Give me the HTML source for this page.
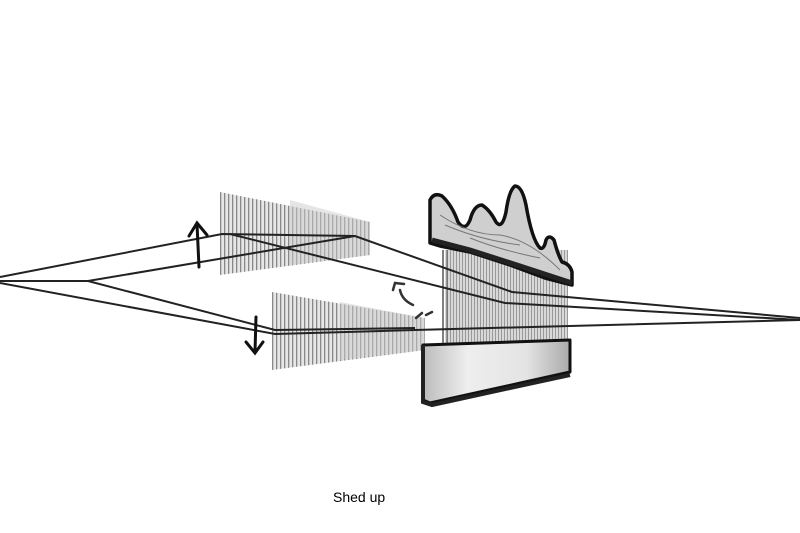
<!DOCTYPE html>
<html><head><style>html,body{margin:0;padding:0;background:#fff;}svg{display:block}</style></head>
<body>
<svg width="800" height="533" viewBox="0 0 800 533" xmlns="http://www.w3.org/2000/svg">
<defs>
<pattern id="vl" width="4" height="10" patternUnits="userSpaceOnUse"><rect width="4" height="10" fill="#e6e6e6"/><rect x="0" width="1.3" height="10" fill="#888"/></pattern>
<pattern id="reed" width="3" height="10" patternUnits="userSpaceOnUse"><rect width="3" height="10" fill="#d8d8d8"/><rect x="0" width="1" height="10" fill="#999"/></pattern>
<linearGradient id="bg" x1="0" x2="1" y1="0" y2="0"><stop offset="0" stop-color="#bbb"/><stop offset="0.3" stop-color="#eee"/><stop offset="0.7" stop-color="#e4e4e4"/><stop offset="1" stop-color="#aaa"/></linearGradient>
</defs>
<polygon points="220,192 370,222 370,255 220,275" fill="url(#vl)"/>
<polygon points="290,200 370,222 370,255 290,265" fill="#ccc" opacity="0.5"/>
<polygon points="272,292 425,318 425,350 272,370" fill="url(#vl)"/>
<polygon points="340,302 425,318 425,350 340,360" fill="#ccc" opacity="0.5"/>
<rect x="445" y="250" width="123" height="95" fill="url(#reed)"/>
<line x1="443" y1="250" x2="443" y2="345" stroke="#555" stroke-width="1.5"/>
<line x1="447" y1="250" x2="447" y2="345" stroke="#555" stroke-width="1"/>
<path d="M430,200 Q434,192 442,196 Q452,205 458,222 Q465,232 470,220 Q474,205 482,205 Q490,210 496,222 Q502,230 506,212 Q509,190 515,186 Q522,186 526,205 Q532,240 540,248 Q544,250 546,240 Q549,234 554,240 Q558,255 562,262 Q570,264 572,272 L572,285 L545,278 L510,265 L470,252 L440,246 L430,243 Z" fill="#cfcfcf" stroke="#111" stroke-width="3.5" stroke-linejoin="round"/>
<path d="M432,240 L470,250 L520,266 L572,283" stroke="#222" stroke-width="5" fill="none"/>
<g stroke="#777" stroke-width="1" fill="none">
<path d="M440,215 Q470,235 500,235 Q530,240 560,270"/>
<path d="M445,225 Q480,240 520,245"/>
<path d="M470,238 Q500,250 540,258"/>
</g>
<path d="M423,345 L570,340 L570,372 L430,403 L423,400 Z" fill="url(#bg)" stroke="#111" stroke-width="3" stroke-linejoin="round"/>
<path d="M423,345 L423,402 L432,405 L570,375" stroke="#222" stroke-width="4" fill="none"/>
<g stroke="#222" stroke-width="2" fill="none">
<polyline points="0,277 222,234 355,236 512,292 800,318"/>
<polyline points="0,281 88,281 355,236"/>
<polyline points="230,234 505,303 800,320"/>
<polyline points="88,281 275,330 415,328"/>
<polyline points="0,283 275,334 415,330 800,320"/>
</g>
<g stroke="#111" stroke-width="3" fill="none" stroke-linecap="round">
<line x1="199" y1="267" x2="197" y2="224"/>
<polyline points="189,236 197,223 207,235"/>
<line x1="256" y1="317" x2="255" y2="352"/>
<polyline points="246,342 255,353 263,342"/>
</g>
<g stroke="#333" stroke-width="2.5" fill="none" stroke-linecap="round">
<path d="M400,290 Q402,300 413,305"/>
<polyline points="393,290 395,283 404,284"/>
<path d="M416,318 L422,313"/>
<path d="M426,315 L432,312"/>
</g>
<text x="333" y="502" font-family="Liberation Sans, sans-serif" font-size="14" fill="#000">Shed up</text>
</svg>
</body></html>
